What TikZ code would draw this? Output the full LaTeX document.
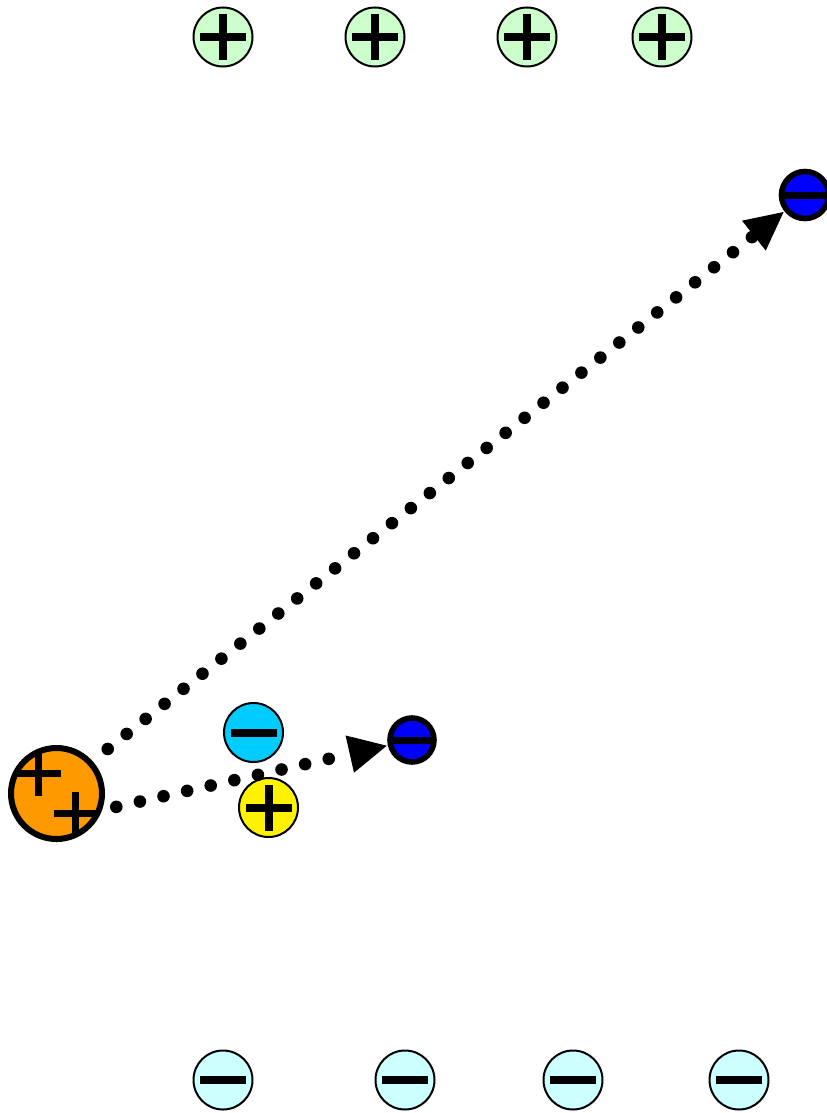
\documentclass[tikz,border=0pt]{standalone}
\usetikzlibrary{arrows.meta}

\definecolor{palegreen}{HTML}{CCFFCC}
\definecolor{palecyan}{HTML}{CCFFFF}
\definecolor{skyion}{HTML}{00CCFF}
\definecolor{orangeion}{HTML}{FF9900}

\begin{document}
\begin{tikzpicture}[
  x=0.5pt, y=-0.5pt,
  ion/.style={circle, draw, line width=1pt, minimum size=29.5pt, inner sep=0pt},
  plussign/.style={path picture={
    \fill[black] ([xshift=-11.5pt, yshift=-2pt]path picture bounding box.center) rectangle ++(23pt,4pt);
    \fill[black] ([xshift=-2pt, yshift=-11.5pt]path picture bounding box.center) rectangle ++(4pt,23pt);}},
  minussign/.style={path picture={
    \fill[black] ([xshift=-11.5pt, yshift=-2pt]path picture bounding box.center) rectangle ++(23pt,4pt);}},
  electron/.style={circle, draw, fill=blue, line width=2.8pt, inner sep=0pt, path picture={
    \fill[black] ([yshift=-1.75pt]path picture bounding box.west) rectangle ([yshift=1.75pt]path picture bounding box.east);}},
  dotarr/.style={line width=6.3pt, line cap=round, dash pattern=on 0pt off 12.1pt,
    -{Triangle[length=19.5pt, width=17.5pt]}}
]
\useasboundingbox (0,0) rectangle (826,1113);

% fixed charges, top and bottom rows
\foreach \x [count=\i] in {223,375,527,662}
  \node[ion, fill=palegreen, plussign] (top\i) at (\x,37) {};
\foreach \x [count=\i] in {223,405,573,739}
  \node[ion, fill=palecyan, minussign] (bot\i) at (\x,1080) {};

% ion pair near the source
\node[ion, fill=skyion, minussign] (anion) at (253.5,732.5) {};
\node[ion, fill=yellow, plussign] (cation) at (268.5,807.5) {};

% source with two plus signs
\node[circle, draw, fill=orangeion, line width=3pt, minimum size=45.5pt, inner sep=0pt, path picture={
  \foreach \dx/\dy in {-9/10, 9.5/-10} {
    \fill[black] ([xshift=\dx pt-11pt, yshift=\dy pt-1.75pt]path picture bounding box.center) rectangle ++(22pt,3.5pt);
    \fill[black] ([xshift=\dx pt-1.75pt, yshift=\dy pt-11pt]path picture bounding box.center) rectangle ++(3.5pt,22pt);
  }}] (source) at (56.5,793.5) {};

% electrons
\node[electron, minimum size=22pt] (near) at (412,740) {};
\node[electron, minimum size=23.5pt] (far) at (805,195) {};

\draw[dotarr, shorten <=9.7pt] (source.42) -- (far);
\draw[dotarr, shorten <=7.3pt] (source.-20) -- (near);

\end{tikzpicture}
\end{document}
